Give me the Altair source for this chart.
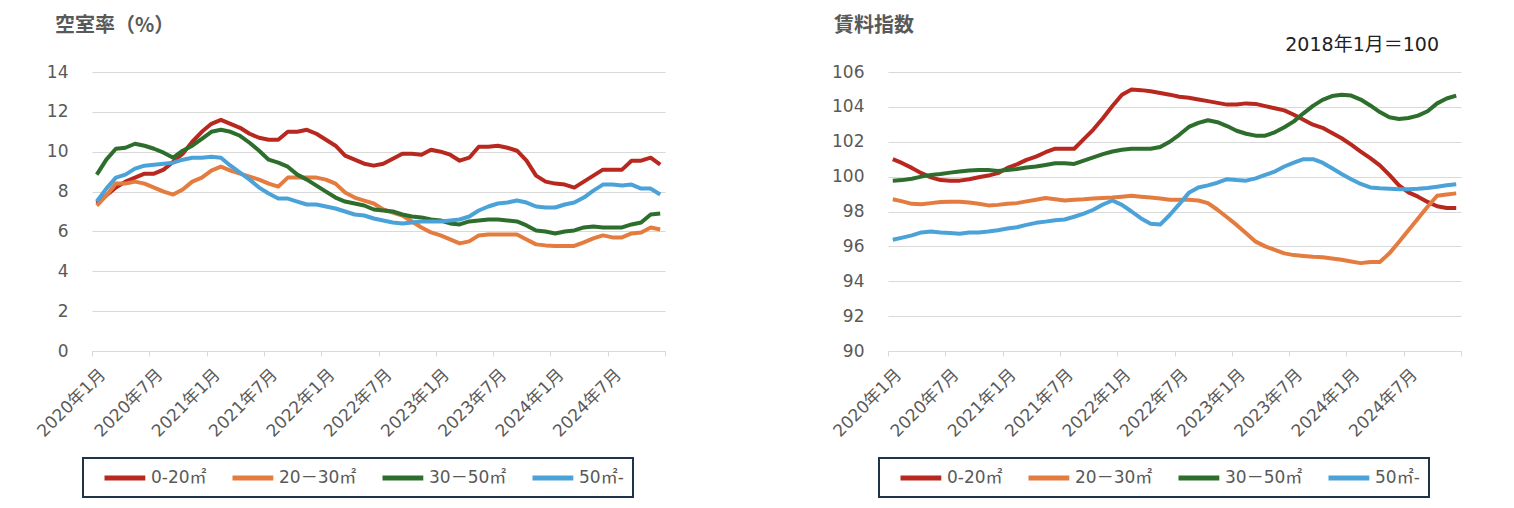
import json
import altair as alt
import pandas as pd

months = list(range(60))
tick_labels = ["2020年1月", "2020年7月", "2021年1月", "2021年7月", "2022年1月",
               "2022年7月", "2023年1月", "2023年7月", "2024年1月", "2024年7月"]
series_names = ["0-20㎡", "20－30㎡", "30－50㎡", "50㎡-"]
colors = ["#B8281F", "#E47C40", "#2E6E2C", "#4BA2D9"]

# 空室率（%）
vac_0_20 = [7.4, 7.8, 8.2, 8.5, 8.7, 8.9, 8.9, 9.1, 9.5, 9.9, 10.5, 11.0, 11.4, 11.6, 11.4, 11.2,
            10.9, 10.7, 10.6, 10.6, 11.0, 11.0, 11.1, 10.9, 10.6, 10.3, 9.8, 9.6, 9.4, 9.3,
            9.4, 9.65, 9.9, 9.9, 9.85, 10.1, 10.0, 9.85, 9.55, 9.7, 10.25, 10.25, 10.3, 10.2,
            10.05, 9.55, 8.8, 8.5, 8.4, 8.35, 8.2, 8.5, 8.8, 9.1, 9.1, 9.1, 9.55, 9.55, 9.7, 9.35]
vac_20_30 = [7.3, 7.8, 8.4, 8.4, 8.5, 8.4, 8.2, 8.0, 7.85, 8.1, 8.5, 8.7, 9.05, 9.25, 9.05, 8.9,
             8.75, 8.6, 8.4, 8.25, 8.7, 8.7, 8.7, 8.7, 8.6, 8.4, 7.95, 7.7, 7.55, 7.4,
             7.1, 6.95, 6.8, 6.5, 6.2, 5.95, 5.8, 5.6, 5.4, 5.5, 5.8, 5.85, 5.85, 5.85,
             5.85, 5.6, 5.35, 5.3, 5.27, 5.27, 5.27, 5.45, 5.65, 5.8, 5.7, 5.7, 5.9, 5.95, 6.2, 6.1]
vac_30_50 = [8.85, 9.6, 10.15, 10.2, 10.4, 10.3, 10.15, 9.95, 9.7, 10.05, 10.3, 10.65, 11.0, 11.1,
             11.0, 10.8, 10.45, 10.05, 9.6, 9.45, 9.25, 8.85, 8.6, 8.3, 8.0, 7.7, 7.5, 7.4, 7.3,
             7.1, 7.05, 7.0, 6.85, 6.75, 6.7, 6.6, 6.55, 6.4, 6.35, 6.5, 6.55, 6.6, 6.6, 6.55,
             6.5, 6.3, 6.05, 6.0, 5.9, 6.0, 6.05, 6.2, 6.25, 6.2, 6.2, 6.2, 6.35, 6.45, 6.85, 6.9]
vac_50 = [7.5, 8.15, 8.7, 8.85, 9.15, 9.3, 9.35, 9.4, 9.45, 9.6, 9.7, 9.7, 9.75, 9.7, 9.3, 8.95,
          8.6, 8.2, 7.9, 7.65, 7.65, 7.5, 7.35, 7.35, 7.25, 7.15, 7.0, 6.85, 6.8, 6.65,
          6.55, 6.45, 6.4, 6.45, 6.5, 6.5, 6.5, 6.55, 6.6, 6.75, 7.05, 7.25, 7.4, 7.45,
          7.55, 7.45, 7.25, 7.2, 7.2, 7.35, 7.45, 7.7, 8.05, 8.35, 8.35, 8.3, 8.35, 8.15, 8.15, 7.85]

# 賃料指数（2018年1月＝100）
rent_0_20 = [101.0, 100.77, 100.5, 100.2, 99.96, 99.8, 99.77, 99.77, 99.85, 99.96, 100.06, 100.2,
             100.5, 100.7, 100.96, 101.15, 101.4, 101.6, 101.6, 101.6, 102.15, 102.7, 103.35,
             104.05, 104.7, 105.0, 104.96, 104.9, 104.8, 104.7, 104.58, 104.52, 104.42, 104.33,
             104.23, 104.13, 104.13, 104.2, 104.17, 104.04, 103.92, 103.8, 103.55, 103.26,
             102.98, 102.8, 102.5, 102.2, 101.83, 101.44, 101.06, 100.65, 100.1, 99.5, 99.1,
             98.85, 98.55, 98.3, 98.2, 98.2]
rent_20_30 = [98.7, 98.58, 98.44, 98.42, 98.48, 98.54, 98.56, 98.56, 98.52, 98.44, 98.35, 98.38,
              98.44, 98.48, 98.58, 98.67, 98.77, 98.7, 98.63, 98.67, 98.7, 98.75, 98.77, 98.8,
              98.85, 98.9, 98.85, 98.8, 98.75, 98.67, 98.67, 98.67, 98.63, 98.48, 98.1, 97.67,
              97.23, 96.75, 96.27, 96.0, 95.8, 95.6, 95.5, 95.45, 95.4, 95.38, 95.3, 95.23,
              95.13, 95.04, 95.1, 95.1, 95.6, 96.25, 96.92, 97.6, 98.27, 98.9, 98.98, 99.04]
rent_30_50 = [99.77, 99.8, 99.88, 100.0, 100.1, 100.15, 100.23, 100.29, 100.35, 100.38, 100.38,
              100.33, 100.38, 100.44, 100.52, 100.58, 100.67, 100.77, 100.77, 100.73, 100.92,
              101.1, 101.29, 101.44, 101.54, 101.6, 101.6, 101.6, 101.7, 102.0, 102.4, 102.85,
              103.08, 103.23, 103.12, 102.9, 102.63, 102.46, 102.35, 102.35, 102.54, 102.83,
              103.17, 103.63, 104.06, 104.4, 104.62, 104.7, 104.65, 104.42, 104.08, 103.7,
              103.4, 103.3, 103.36, 103.5, 103.75, 104.2, 104.48, 104.65]
rent_50 = [96.38, 96.5, 96.63, 96.8, 96.85, 96.8, 96.77, 96.73, 96.8, 96.8, 96.85, 96.92, 97.02,
           97.1, 97.23, 97.35, 97.42, 97.5, 97.54, 97.7, 97.88, 98.1, 98.4, 98.63, 98.38, 98.0,
           97.6, 97.3, 97.25, 97.8, 98.42, 99.07, 99.38, 99.5, 99.65, 99.85, 99.8, 99.77, 99.9,
           100.1, 100.29, 100.58, 100.8, 101.0, 101.0, 100.8, 100.48, 100.15, 99.85, 99.58,
           99.38, 99.33, 99.3, 99.27, 99.27, 99.3, 99.35, 99.42, 99.5, 99.56]

vac_ticks = [0, 2, 4, 6, 8, 10, 12, 14]
rent_ticks = [90, 92, 94, 96, 98, 100, 102, 104, 106]
left_title = ["空室率（%）"]
right_title = ["賃料指数"]
note_text = ["2018年1月＝100"]


def long_df(series_list):
    rows = []
    for name, vals in zip(series_names, series_list):
        for m, v in zip(months, vals):
            rows.append({"idx": m, "value": v, "series": name})
    return pd.DataFrame(rows)


vac_df = long_df([vac_0_20, vac_20_30, vac_30_50, vac_50])
rent_df = long_df([rent_0_20, rent_20_30, rent_30_50, rent_50])

FONT = "DejaVu Sans, Noto Sans CJK JP"
GRAY = "#595959"
LIGHT = "#D9D9D9"
W, H = 573, 279

x_tick_values = [-0.5 + 6 * k for k in range(11)]
label_expr = json.dumps(tick_labels, ensure_ascii=False) + "[round((datum.value + 0.5) / 6)] || ''"

x_enc = alt.X(
    "idx:Q",
    scale=alt.Scale(domain=[-0.5, 59.5], nice=False, zero=False),
    axis=alt.Axis(
        values=x_tick_values, labelExpr=label_expr, title=None, grid=False,
        domainColor=LIGHT, tickColor=LIGHT, tickSize=5, labelAngle=-45,
        labelFontSize=17, labelColor=GRAY, labelFont=FONT, labelOverlap=False,
        labelOffset=4.8, labelPadding=10, labelBound=False,
    ),
)


def color_enc(legend_x):
    return alt.Color(
        "series:N",
        scale=alt.Scale(domain=series_names, range=colors),
        sort=series_names,
        legend=alt.Legend(
            title=" ", titleOrient="left", titleFontSize=8, titlePadding=10,
            orient="none", direction="horizontal",
            legendX=legend_x, legendY=386, symbolType="M-1,0H3.8", symbolStrokeWidth=5,
            symbolSize=289, labelFontSize=17, labelColor=GRAY, labelFont=FONT,
            columnPadding=15, padding=9, gridAlign="none",
            strokeColor="#1F3547", labelOffset=27,
        ),
    )


def text_mark(values, x, y, size, color, weight="normal", align="left", baseline="alphabetic"):
    return alt.Chart(pd.DataFrame({"t": values})).mark_text(
        align=align, baseline=baseline, fontSize=size, color=color,
        fontWeight=weight, font="Noto Sans CJK JP" if weight == "bold" else FONT,
    ).encode(x=alt.value(x), y=alt.value(y), text="t:N")


def panel(df, ticks, legend_x):
    y_enc = alt.Y(
        "value:Q",
        scale=alt.Scale(domain=[ticks[0], ticks[-1]], nice=False, zero=False),
        axis=alt.Axis(
            values=ticks, title=None, domain=False, ticks=False, grid=True,
            gridColor=LIGHT, labelFontSize=17, labelColor=GRAY, labelFont=FONT,
            labelPadding=24,
        ),
    )
    return alt.Chart(df).mark_line(strokeWidth=4, strokeJoin="round").encode(
        x=x_enc, y=y_enc, color=color_enc(legend_x), detail="series:N"
    )


left = alt.layer(
    panel(vac_df, vac_ticks, -9),
    text_mark(left_title, -37, -40, 20, GRAY, weight="bold"),
).properties(width=W, height=H)

right = alt.layer(
    panel(rent_df, rent_ticks, -9),
    text_mark(right_title, -54, -40, 20, GRAY, weight="bold"),
    text_mark(note_text, 551, -27, 19, "#222222", align="right", baseline="middle"),
).properties(width=W, height=H)

chart = alt.hconcat(left, right, spacing=147).resolve_scale(
    color="independent"
).resolve_legend(color="independent").properties(
    padding={"left": 25, "top": 8, "right": 5, "bottom": 5}
).configure(font=FONT).configure_view(stroke=None).configure_legend(strokeWidth=2)

chart.save("out.html", embed_options={"renderer": "svg", "actions": False})
